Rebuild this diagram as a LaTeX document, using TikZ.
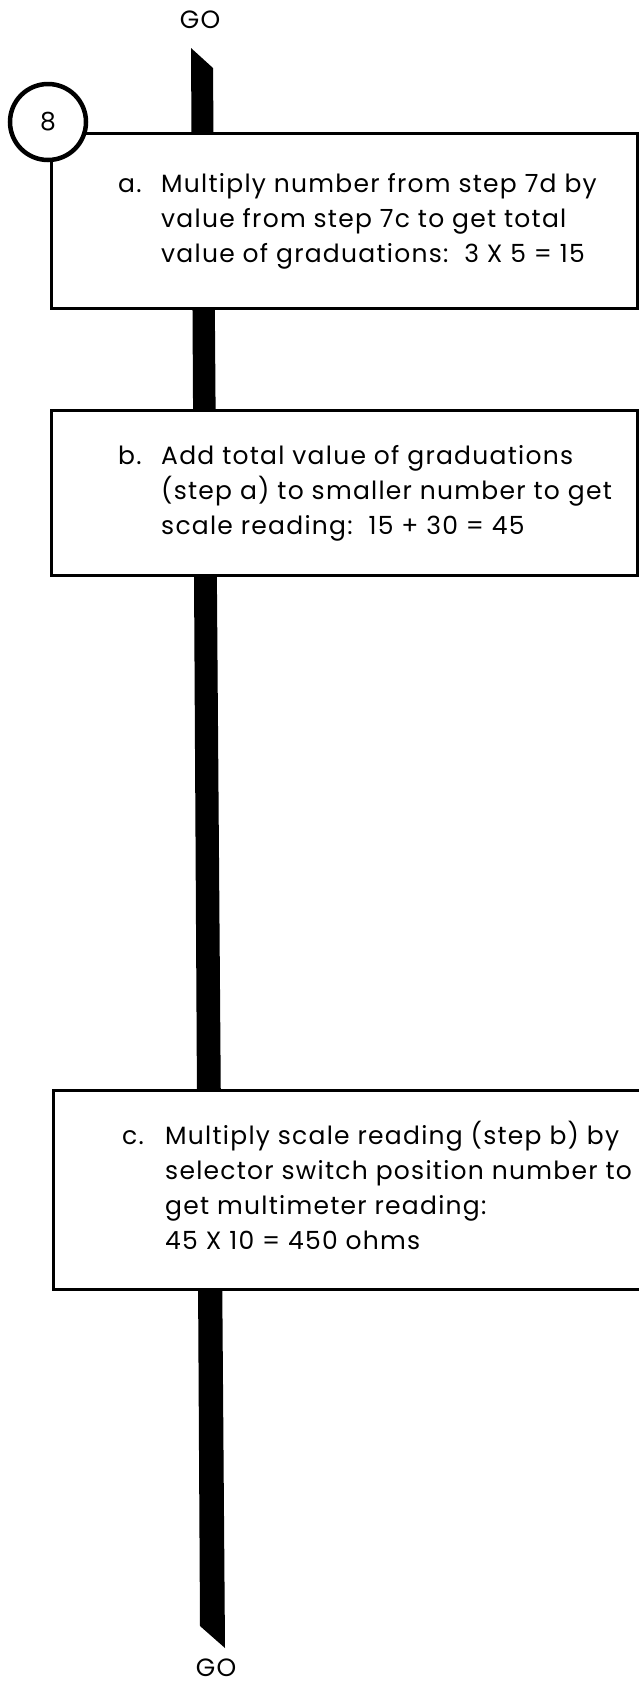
\documentclass[tikz,border=0pt]{standalone}
\usepackage{fontspec}
\newfontfamily\stepfont[LetterSpace=5]{Poppins}
\usetikzlibrary{positioning}

\begin{document}
\begin{tikzpicture}[
    x=1pt, y=-1pt,
    font=\stepfont\fontsize{25}{35}\selectfont,
    stepbox/.style={draw, line width=3pt, fill=white, minimum width=586pt, inner sep=0pt, outer sep=0pt},
    steptext/.style={anchor=west, inner sep=0pt},
    badge/.style={draw, circle, line width=4.5pt, fill=white, minimum size=76pt, inner sep=0pt},
    golabel/.style={inner sep=0pt}
]
    \clip (0,0) rectangle (639,1687);

    % terminals
    \node[golabel] (gotop) at (200,20) {GO};
    \node[golabel] (gobot) at (216,1668) {GO};

    % flow bar, drawn first so the boxes sit on top of it
    \coordinate (bartl) at (191,48);
    \coordinate (bartr) at (213,68);
    \coordinate (barbr) at (225,1648);
    \coordinate (barbl) at (200,1626);
    \fill (bartl) -- (bartr) -- (barbr) -- (barbl) -- cycle;

    % step boxes
    \node[stepbox, minimum height=175pt, anchor=north west] (boxa) at (51,133) {};
    \node[stepbox, minimum height=165pt, below right=102pt and 0pt of boxa.south west] (boxb) {};
    \node[stepbox, minimum height=199pt, minimum width=590pt, below right=515pt and 2pt of boxb.south west] (boxc) {};

    \node[badge] (num) at (48,122) {8};

    \node[steptext] (texta) at ([xshift=67pt]boxa.west) {\begin{tabular}{@{}p{43pt}@{}l@{}}
        a. & Multiply number from step 7d by\\
           & value from step 7c to get total\\
           & value of graduations:\ \ 3 X 5 = 15
    \end{tabular}};
    \node[steptext] (textb) at ([xshift=67pt]boxb.west) {\begin{tabular}{@{}p{43pt}@{}l@{}}
        b. & Add total value of graduations\\
           & (step a) to smaller number to get\\
           & scale reading:\ \ 15 + 30 = 45
    \end{tabular}};
    \node[steptext] (textc) at ([xshift=69pt]boxc.west) {\begin{tabular}{@{}p{43pt}@{}l@{}}
        c. & Multiply scale reading (step b) by\\
           & selector switch position number to\\
           & get multimeter reading:\\
           & 45 X 10 = 450 ohms
    \end{tabular}};
\end{tikzpicture}
\end{document}
